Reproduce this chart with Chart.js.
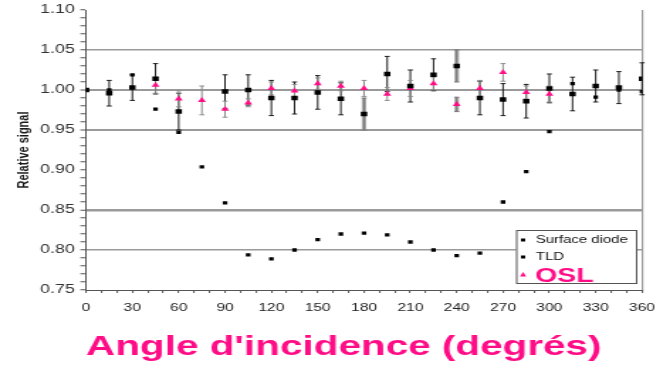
<!DOCTYPE html>
<html>
<head>
<meta charset="utf-8">
<script src="https://cdn.jsdelivr.net/npm/chart.js@4.4.1/dist/chart.umd.min.js"></script>
<style>
  html, body { margin: 0; padding: 0; background: #fff; overflow: hidden; }
  #wrap { width: 472px; height: 365px; transform: scaleX(1.4195); transform-origin: 0 0; }
  canvas { display: block; }
</style>
</head>
<body>
<div id="wrap"><canvas id="c" width="472" height="365"></canvas></div>
<script>
// Angle of incidence (degrees)
const angles = [0, 15, 30, 45, 60, 75, 90, 105, 120, 135, 150, 165, 180,
                195, 210, 225, 240, 255, 270, 285, 300, 315, 330, 345, 360];

// Relative signal, surface diode
const diode = [1.000, 1.000, 1.019, 0.976, 0.947, 0.904, 0.859, 0.794, 0.789, 0.800, 0.813, 0.820, 0.821,
               0.819, 0.810, 0.800, 0.793, 0.796, 0.860, 0.898, 0.948, 1.008, 0.991, 1.000, 0.998];

// Relative signal, TLD, with its uncertainty
const tld = [1.000, 0.996, 1.003, 1.014, 0.973, null, 0.998, 1.000, 0.990, 0.990, 0.997, 0.989, 0.970,
             1.020, 1.005, 1.019, 1.030, 0.990, 0.988, 0.986, 1.002, 0.995, 1.005, 1.003, 1.014];
const tldErr = [0, 0.016, 0.016, 0.019, 0.023, null, 0.021, 0.019, 0.022, 0.020, 0.021, 0.020, 0.020,
                0.022, 0.020, 0.020, 0.020, 0.021, 0.020, 0.021, 0.018, 0.021, 0.020, 0.020, 0.020];

// Relative signal, OSL, with its uncertainty
const osl = [null, null, null, 1.006, 0.989, 0.987, 0.976, 0.984, 1.002, 0.999, 1.008, 1.005, 1.002,
             0.995, 1.002, 1.008, 0.982, 1.002, 1.022, 0.997, 0.995, null, null, null, null];
const oslErr = [null, null, null, 0.010, 0.010, 0.018, 0.010, 0.005, 0.008, 0.008, 0.007, 0.006, 0.010,
                0.008, 0.010, 0.008, 0.009, 0.010, 0.011, 0.008, 0.010, null, null, null, null];

// Y tick labels and the reference lines drawn across the plot
const yTickLabels = ['0.75', '0.80', '0.85', '0.90', '0.95', '1.00', '1.05', '1.10'];
const yRuleLines = [1.05, 1.00, 0.95, 0.85, 0.80];
const xTickLabels = ['0', '30', '60', '90', '120', '150', '180', '210', '240', '270', '300', '330', '360'];

const MAGENTA = '#ff0d87';
const pts = (ys) => angles.map((a, i) => ({ x: a, y: ys[i] }));

// Angles whose uncertainty is shown as a wide shaded bar
const shadedAngles = { TLD: [180, 240], OSL: [240] };

const errorBars = {
  id: 'errorBars',
  beforeDatasetsDraw(chart) {
    const { ctx, scales: { x, y } } = chart;
    chart.data.datasets.forEach((ds) => {
      if (!ds.errors) return;
      const shaded = shadedAngles[ds.label] || [];
      ctx.save();
      ds.data.forEach((p, j) => {
        const e = ds.errors[j];
        if (p.y == null || !e) return;
        const px = x.getPixelForValue(p.x);
        const yt = y.getPixelForValue(p.y + e);
        const yb = y.getPixelForValue(p.y - e);
        if (shaded.includes(p.x)) {
          ctx.fillStyle = '#a8a8a8';
          ctx.fillRect(px - 1.6, yt, 3.2, yb - yt);
          ctx.strokeStyle = '#777';
          ctx.lineWidth = 1;
        } else {
          ctx.strokeStyle = ds.errorColor;
          ctx.lineWidth = 1;
        }
        ctx.beginPath();
        ctx.moveTo(px, yt); ctx.lineTo(px, yb);
        ctx.moveTo(px - 1.8, yt); ctx.lineTo(px + 1.8, yt);
        ctx.moveTo(px - 1.8, yb); ctx.lineTo(px + 1.8, yb);
        ctx.stroke();
      });
      ctx.restore();
    });
  }
};

// Legend box in the lower right corner of the plot
const boxLegend = {
  id: 'boxLegend',
  afterDraw(chart) {
    const { ctx } = chart;
    const left = 363.5, top = 230, w = 84.5, h = 53;
    ctx.save();
    ctx.fillStyle = '#fff';
    ctx.fillRect(left, top, w, h);
    ctx.strokeStyle = '#555';
    ctx.lineWidth = 1;
    ctx.strokeRect(left + 0.5, top + 0.5, w, h);
    const rows = [240, 257, 275];
    chart.data.datasets.forEach((ds, i) => {
      const cy = rows[i];
      const mx = 368.5;
      ctx.fillStyle = ds.backgroundColor;
      if (ds.pointStyle === 'triangle') {
        ctx.beginPath();
        ctx.moveTo(mx, cy - 3); ctx.lineTo(mx + 2.2, cy + 1.5); ctx.lineTo(mx - 2.2, cy + 1.5);
        ctx.closePath(); ctx.fill();
      } else {
        ctx.fillRect(mx - 1.5, cy - 1.5, 3, 3);
      }
      ctx.textBaseline = 'middle';
      ctx.textAlign = 'left';
      if (ds.label === 'OSL') {
        ctx.font = 'bold 20px "Liberation Sans", Arial, sans-serif';
        ctx.fillStyle = MAGENTA;
        ctx.fillText(ds.label, 377, cy + 1);
      } else {
        ctx.font = '10.5px "Liberation Sans", Arial, sans-serif';
        ctx.fillStyle = '#111';
        ctx.fillText(ds.label, 377.5, cy);
      }
    });
    ctx.restore();
  }
};

new Chart(document.getElementById('c'), {
  type: 'scatter',
  data: {
    datasets: [
      { label: 'Surface diode', data: pts(diode), pointStyle: 'rect', pointRadius: 2.3,
        backgroundColor: '#000', borderColor: '#000', borderWidth: 0 },
      { label: 'TLD', data: pts(tld), errors: tldErr, errorColor: '#1a1a1a', pointStyle: 'rect', pointRadius: 3.2,
        backgroundColor: '#000', borderColor: '#000', borderWidth: 0 },
      { label: 'OSL', data: pts(osl), errors: oslErr, errorColor: '#8a8a8a', pointStyle: 'triangle', pointRadius: 3.3,
        backgroundColor: MAGENTA, borderColor: MAGENTA, borderWidth: 0 }
    ]
  },
  options: {
    responsive: false,
    animation: false,
    events: [],
    layout: { padding: { top: 10, right: 19.7, left: 0, bottom: 0 } },
    plugins: { legend: { display: false }, tooltip: { enabled: false } },
    scales: {
      x: {
        type: 'linear', min: 0, max: 360,
        afterFit(s) { s.height = 75; s.paddingLeft = 0; s.paddingRight = 0; },
        ticks: {
          stepSize: 10, autoSkip: false, maxRotation: 0, padding: 8,
          color: '#222',
          font: { family: '"Liberation Sans", Arial, sans-serif', size: 11 },
          callback: (v) => (Math.round(v) % 30 === 0 ? xTickLabels[Math.round(v) / 30] : '')
        },
        grid: {
          color: (c) => (c.tick && c.tick.value === 360 ? '#9a9a9a' : 'rgba(0,0,0,0)'),
          lineWidth: 1.2, tickLength: 3, tickColor: '#555', tickWidth: 1
        },
        border: { color: '#555', width: 1 },
        title: {
          display: true, text: "Angle d'incidence (degrés)", align: 'start',
          color: MAGENTA, padding: { top: 0, bottom: 1 },
          font: { family: '"Liberation Sans", Arial, sans-serif', size: 28.5, weight: 'bold' }
        }
      },
      y: {
        type: 'linear', min: 0.75, max: 1.10,
        afterFit(s) { s.width = 60.6; s.paddingTop = 0; s.paddingBottom = 0; },
        ticks: {
          stepSize: 0.01, autoSkip: false, padding: 4,
          color: '#333',
          font: { family: '"Liberation Sans", Arial, sans-serif', size: 12.5 },
          callback: (v) => {
            const c = Math.round(v * 100);
            return c % 5 === 0 ? yTickLabels[(c - 75) / 5] : '';
          }
        },
        grid: {
          color: (c) => {
            const v = c.tick ? Math.round(c.tick.value * 100) / 100 : null;
            return yRuleLines.includes(v) ? '#9a9a9a' : 'rgba(0,0,0,0)';
          },
          lineWidth: (c) => {
            const v = c.tick ? Math.round(c.tick.value * 100) / 100 : null;
            return v === 0.85 ? 2.5 : (v === 1.00 || v === 0.95 ? 2 : 1.5);
          },
          tickLength: 4, tickColor: '#555', tickWidth: 1
        },
        border: { color: '#555', width: 1 },
        title: {
          display: true, text: 'Relative signal', color: '#1a1a1a',
          padding: { top: 10, bottom: 0 },
          font: { family: '"Liberation Sans", Arial, sans-serif', size: 11, weight: 'bold' }
        }
      }
    }
  },
  plugins: [errorBars, boxLegend]
});
</script>
</body>
</html>
